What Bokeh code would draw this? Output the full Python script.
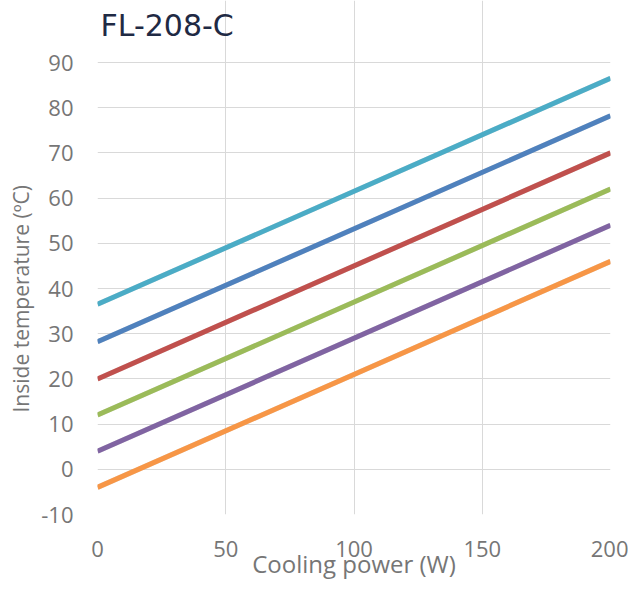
from bokeh.plotting import figure
from bokeh.embed import file_html
from bokeh.resources import INLINE
from bokeh.models import Range1d, FixedTicker, CustomJSTickFormatter, Label, Title

title = "FL-208-C"
x_label = "Cooling power (W)"
y_label = "Inside temperature (ºC)"

power = [0, 200]
series_orange = [-4.0, 46.0]
series_purple = [4.0, 54.0]
series_green = [12.0, 62.0]
series_red = [20.0, 70.0]
series_blue = [28.2, 78.2]
series_aqua = [36.5, 86.5]

x_ticks = [0, 50, 100, 150, 200]
y_ticks = [-10, 0, 10, 20, 30, 40, 50, 60, 70, 80, 90]

series = [
    (series_orange, "#F79646"),
    (series_purple, "#8064A2"),
    (series_green, "#9BBB59"),
    (series_red, "#C0504D"),
    (series_blue, "#4F81BD"),
    (series_aqua, "#4BACC6"),
]

FONT = "Open Sans"
GRAY = "#767676"
GRID = "#D9D9D9"
W, H = 628, 590
BOTTOM = 76          # space below the plot area for the x axis
TOP_GAP = 62         # space above the 90 gridline for the chart title
AREA_H = 452         # height of the -10..90 plot area
y_lo, y_hi = y_ticks[0], y_ticks[-1]
y_top = y_hi + (y_hi - y_lo) * TOP_GAP / AREA_H

p = figure(width=W, height=H, output_backend="svg", toolbar_location=None,
           x_range=Range1d(x_ticks[0], x_ticks[-1]), y_range=Range1d(y_lo, y_top),
           min_border_left=97, min_border_right=18, min_border_top=0, min_border_bottom=BOTTOM)

for ys, c in series:
    p.line(power, ys, line_color="#7f7f7f", line_width=5, line_alpha=0.25)
    p.line(power, ys, line_color=c, line_width=5)

p.xaxis.ticker = FixedTicker(ticks=x_ticks)
p.yaxis.ticker = FixedTicker(ticks=y_ticks)
for ax in (p.xaxis, p.yaxis):
    ax.formatter = CustomJSTickFormatter(code="return tick.toString();")
    ax.axis_line_color = None
    ax.major_tick_line_color = None
    ax.minor_tick_line_color = None
    ax.major_tick_out = 0
    ax.major_tick_in = 0
    ax.major_label_text_font = FONT
    ax.major_label_text_font_size = "22px"
    ax.major_label_text_color = GRAY
    ax.axis_label_text_font = FONT
    ax.axis_label_text_font_style = "normal"
    ax.axis_label_text_color = GRAY

p.xaxis.axis_label_text_font_size = "24px"
p.xaxis.axis_label = x_label
p.xaxis.major_label_standoff = 26
p.yaxis.major_label_standoff = 24
p.xaxis.axis_label_standoff = -13

# vertical axis title as a side title, starting 102px above the bottom of the plot area
p.add_layout(Title(text=y_label, align="left", offset=102, standoff=8,
                   text_font=FONT, text_font_size="21px", text_font_style="normal",
                   text_color=GRAY), "left")

# chart title in the space above the plot area
p.add_layout(Label(x=3, y=AREA_H + TOP_GAP - 25, x_units="screen", y_units="screen", text=title,
                   text_font="DejaVu Sans", text_font_size="30px", text_color="#1F2A44",
                   text_align="left", text_baseline="alphabetic"))

p.xgrid.grid_line_color = GRID
p.ygrid.grid_line_color = GRID
p.xgrid.bounds = (y_lo, y_hi)
p.outline_line_color = None
p.background_fill_color = "white"
p.border_fill_color = "white"

open("out.html", "w").write(file_html(p, INLINE))
